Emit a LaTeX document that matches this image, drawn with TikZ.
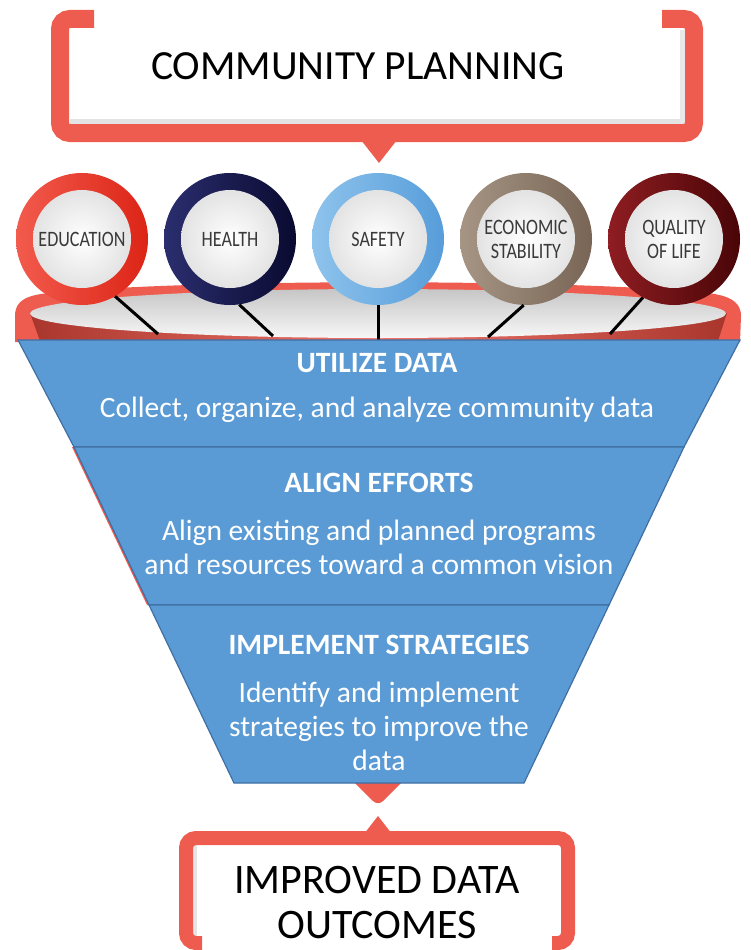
\documentclass[tikz,border=0pt]{standalone}
\usepackage{fontspec}
\setmainfont{Carlito}
\newfontfamily\ringfont{Carlito}[FakeStretch=0.82]
\usetikzlibrary{positioning}

\definecolor{bracketred}{HTML}{EE5C50}
\definecolor{wallred}{HTML}{A9362D}
\definecolor{funnelblue}{HTML}{5B9BD5}
\definecolor{funneledge}{HTML}{3F6FA3}
\definecolor{ringgray}{HTML}{3A3A3A}
\definecolor{edua}{HTML}{F25B4D}
\definecolor{edub}{HTML}{DC2416}
\definecolor{heaa}{HTML}{2A2E6E}
\definecolor{heab}{HTML}{0A0A30}
\definecolor{safa}{HTML}{8EC3EC}
\definecolor{safb}{HTML}{579DDA}
\definecolor{ecoa}{HTML}{A69584}
\definecolor{ecob}{HTML}{786555}
\definecolor{qola}{HTML}{8E1D22}
\definecolor{qolb}{HTML}{4A0507}

\begin{document}
\begin{tikzpicture}[x=1pt,y=-1pt,
	bracket/.style={draw=bracketred, line width=#1, rounded corners=10},
	ring/.style={circle, minimum size=132, inner sep=0},
	ringtext/.style={text=ringgray, font=\ringfont\fontsize{22}{24}\selectfont, align=center, inner sep=0},
	section/.style={fill=funnelblue, draw=funneledge, line width=1.2},
	sectitle/.style={text=white, font=\bfseries\fontsize{29.5}{34}\selectfont, inner sep=0},
	sectext/.style={text=white, font=\fontsize{29.5}{34}\selectfont, align=center, inner sep=0},
	headtext/.style={text=black, align=center, inner sep=0},
	stick/.style={draw=black, line width=3}]
	\useasboundingbox (0,0) rectangle (750,950);

	% top bracket
	\fill[gray!22] (70,119) rectangle (686,124);
	\fill[gray!18] (680,30) rectangle (685,124);
	\draw[bracket=18] (94,19) -- (60,19) -- (60,133) -- (694,133) -- (694,19) -- (662,19);
	\fill[bracketred] (361,140) -- (397,140) -- (379,163) -- cycle;
	\node[headtext, font=\fontsize{41.5}{48}\selectfont] (plan) at (358,66) {COMMUNITY PLANNING};

	% funnel rim
	\fill[bracketred] (15,342) -- (15,316) .. controls (15,296) and (35,294) .. (60,292)
		.. controls (200,279) and (558,279) .. (698,292)
		.. controls (722,294) and (741,298) .. (741,316) -- (740,342) -- cycle;
	\shade[left color=wallred, right color=wallred, middle color=bracketred!85] (30,313) -- (40,341) -- (718,341) -- (727,313) -- cycle;
	\shade[top color=gray!45, bottom color=gray!6] (378,313.5) ellipse (348pt and 24.5pt);

	% circles
	\foreach \nm/\x/\ca/\cb in {edu/82/edua/edub, hea/230/heaa/heab, saf/378/safa/safb, eco/526/ecoa/ecob, qol/674/qola/qolb}
		\node[ring, left color=\ca, right color=\cb] (\nm) at (\x,239) {};
	\foreach \nm in {edu,hea,saf,eco,qol}
		\shade[inner color=white, outer color=gray!22] (\nm.center) circle (49pt);
	\node[ringtext] at (edu) {EDUCATION};
	\node[ringtext] at (hea) {HEALTH};
	\node[ringtext] at (saf) {SAFETY};
	\node[ringtext] at (eco) {ECONOMIC\\STABILITY};
	\node[ringtext] at (qol) {QUALITY\\OF LIFE};

	% sticks
	\coordinate (s1) at (158,334);
	\coordinate (s2) at (273,336);
	\coordinate (s3) at (378,340);
	\coordinate (s4) at (488,337);
	\coordinate (s5) at (610,334);
	\draw[stick] (edu.-60) -- (s1);
	\draw[stick] (hea.-82) -- (s2);
	\draw[stick] (saf.-90) -- (s3);
	\draw[stick] (eco.-92) -- (s4);
	\draw[stick] (qol.-118) -- (s5);

	% red cone behind the funnel
	\fill[bracketred] (72,447) -- (147,605) -- (151,605) -- (76,447) -- cycle;
	\fill[bracketred, rounded corners=7] (350,778) -- (378,806) -- (406,778) -- cycle;

	% funnel sections
	\filldraw[section] (18,340) -- (740,340) -- (684,447) -- (74,447) -- cycle;
	\filldraw[section] (74,447) -- (684,447) -- (609,605) -- (149,605) -- cycle;
	\filldraw[section] (149,605) -- (609,605) -- (524,783) -- (234,783) -- cycle;

	\node[sectitle] (util) at (377,363) {UTILIZE DATA};
	\node[sectext] (utiltxt) at (377,410) {Collect, organize, and analyze community data};
	\node[sectitle] (align) at (379,483) {ALIGN EFFORTS};
	\node[sectext] (aligntxt) at (379,547) {Align existing and planned programs\\and resources toward a common vision};
	\node[sectitle] (impl) at (379,645) {IMPLEMENT STRATEGIES};
	\node[sectext] (impltxt) at (379,726) {Identify and implement\\strategies to improve the\\data};

	% bottom bracket
	\fill[bracketred] (364,834) -- (392,834) -- (378,816) -- cycle;
	\fill[gray!20] (193,845) rectangle (197,950);
	\draw[bracket=14] (202,943) -- (186,943) -- (186,838) -- (568,838) -- (568,943) -- (552,943);
	\node[headtext, font=\fontsize{42}{45}\selectfont] (outcome) at (377,903) {IMPROVED DATA\\OUTCOMES};
\end{tikzpicture}
\end{document}
